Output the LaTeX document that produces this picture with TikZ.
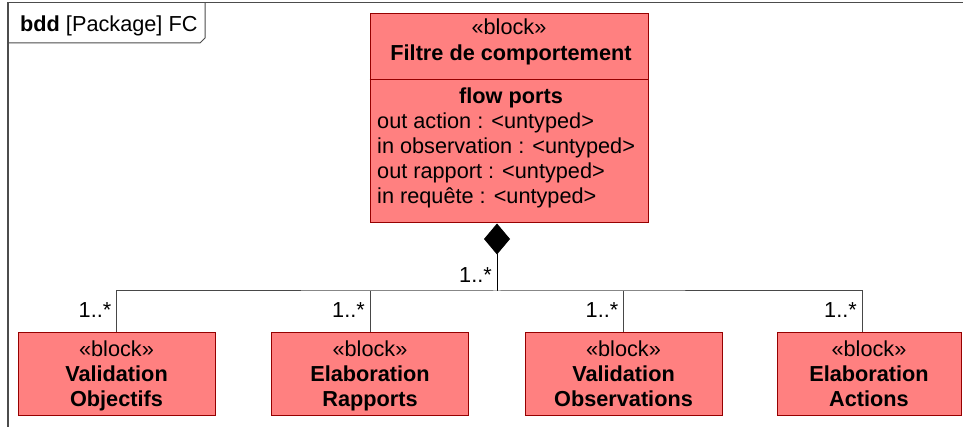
\documentclass[tikz,border=0pt]{standalone}
\usepackage{fontspec}
\setmainfont{Liberation Sans}
\usetikzlibrary{arrows.meta}
\definecolor{blkfill}{RGB}{255,128,128}
\definecolor{blkdraw}{RGB}{150,0,0}
\newcommand\dfont{\fontsize{21.7pt}{25pt}\selectfont}
\begin{document}
\begin{tikzpicture}[x=1pt,y=-1pt,
  blk/.style={draw=blkdraw, fill=blkfill, line width=1pt, inner sep=0pt,
    minimum width=197pt, minimum height=83pt},
  txt/.style={inner sep=0pt, font=\dfont},
  blktxt/.style={inner sep=0pt, font=\dfont, align=center, yshift=-2.5pt},
  conn/.style={draw=black!72, line width=1pt},
  mult/.style={inner sep=0pt, font=\dfont, anchor=base east}]
\useasboundingbox (0,0) rectangle (963,427);
\fill[white] (0,0) rectangle (963,427);
% frame
\draw[line width=1.2pt, black!70] (8,440) -- (8,2.5) -- (975,2.5);
\draw[line width=1pt, black!70] (8,43) -- (200,43) -- (205,38) -- (205,2.5);
\node[txt, anchor=base west] (title) at (20,32) {\textbf{bdd} [Package] FC};
% top block
\node[blk, minimum width=278pt, minimum height=209pt] (top) at (509,118.5) {};
\draw[blkdraw, line width=1pt] (top.west |- 0,80) -- (top.east |- 0,80);
\node[txt, anchor=base] (st0) at (509,35) {«block»};
\node[txt, anchor=base, font=\dfont\bfseries] (nm0) at (511,61) {Filtre de comportement};
\node[txt, anchor=base, font=\dfont\bfseries] (fp) at (511,104) {flow ports};
\node[txt, anchor=base west] (p1) at (377,129) {out action : <untyped>};
\node[txt, anchor=base west] (p2) at (377,154) {in observation : <untyped>};
\node[txt, anchor=base west] (p3) at (377,179) {out rapport : <untyped>};
\node[txt, anchor=base west] (p4) at (377,204) {in requête : <untyped>};
% bottom blocks
\node[blk] (b1) at (116.5,373.5) {};
\node[blk] (b2) at (370,373.5) {};
\node[blk] (b3) at (623.5,373.5) {};
\node[blk, minimum width=184pt] (b4) at (869,373.5) {};
\node[blktxt] (t1) at (b1.center) {\strut«block»\\\strut\textbf{Validation}\\\strut\textbf{Objectifs}};
\node[blktxt] (t2) at (b2.center) {\strut«block»\\\strut\textbf{Elaboration}\\\strut\textbf{Rapports}};
\node[blktxt] (t3) at (b3.center) {\strut«block»\\\strut\textbf{Validation}\\\strut\textbf{Observations}};
\node[blktxt] (t4) at (b4.center) {\strut«block»\\\strut\textbf{Elaboration}\\\strut\textbf{Actions}};
% connectors
\coordinate (hub) at (497,291);
\draw[line width=1pt, {Diamond[length=31pt,width=26pt]}-] (top.south -| hub) -- (hub);
\draw[conn] (b1.north) |- (hub) -| ([xshift=-7pt]b4.north);
\draw[conn] (b2.north) -- (b2.north |- hub);
\draw[conn] (b3.north) -- (b3.north |- hub);
% multiplicities
\node[mult] (m0) at ([xshift=-5pt,yshift=8pt]hub) {1..*};
\node[mult] (m1) at ([xshift=-5pt,yshift=14pt]b1.north) {1..*};
\node[mult] (m2) at ([xshift=-5pt,yshift=14pt]b2.north) {1..*};
\node[mult] (m3) at ([xshift=-5pt,yshift=14pt]b3.north) {1..*};
\node[mult] (m4) at ([xshift=-12pt,yshift=14pt]b4.north) {1..*};
\end{tikzpicture}
\end{document}
